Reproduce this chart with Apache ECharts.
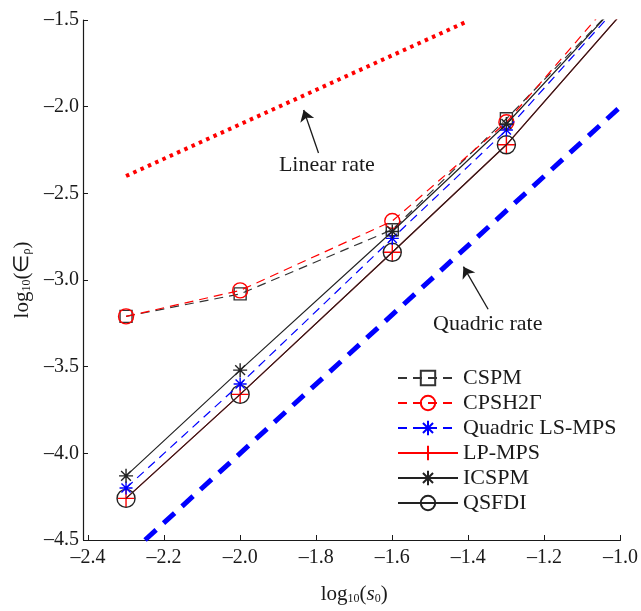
<!DOCTYPE html>
<html>
<head>
<meta charset="utf-8">
<script src="https://cdn.jsdelivr.net/npm/echarts@6/dist/echarts.min.js"></script>
<style>
  html, body { margin: 0; padding: 0; background: #fff; }
  #chart { width: 641px; height: 611px; }
</style>
</head>
<body>
<div id="chart"></div>
<script>
// log10(s0) positions of the five runs
var xVals = [-2.3, -2.0, -1.6, -1.3, -1.0];

// log10(error) per method
var cspm   = [-3.21, -3.08, -2.71, -2.07, -1.39];
var cpsh   = [-3.21, -3.06, -2.66, -2.09, -1.33];
var quadLS = [-4.20, -3.60, -2.76, -2.135, -1.405];
var lpmps  = [-4.26, -3.66, -2.84, -2.22, -1.47];
var icspm  = [-4.13, -3.52, -2.72, -2.10, -1.39];
var qsfdi  = [-4.26, -3.66, -2.84, -2.22, -1.47];

// reference slopes
var linX = [-2.3, -1.41];
var linY = [-2.40, -1.515];
var quadX = [-2.25, -1.0];
var quadY = [-4.5, -2.0];

// annotations
var noteText = ['Linear rate', 'Quadric rate'];
var noteX = [-1.772, -1.349];
var noteY = [-2.337, -3.254];
var arrowFrom = [[-1.794, -2.267], [-1.348, -3.169]];
var arrowTo   = [[-1.833, -2.019], [-1.413, -2.923]];

var legendNames = ['CSPM', 'CPSH2Γ', 'Quadric LS-MPS', 'LP-MPS', 'ICSPM', 'QSFDI'];

var FONT = 'Liberation Serif';
var INK = '#1a1a1a';

var SQUARE = 'path://M-1,-1L1,-1L1,1L-1,1Z';
var CIRCLE = 'path://M1,0A1,1,0,1,1,-1,0A1,1,0,1,1,1,0Z';
var PLUS   = 'path://M0,-1L0,1M-1,0L1,0';
var STAR   = 'path://M0,-1L0,1M-1,0L1,0M-0.7,-0.7L0.7,0.7M-0.7,0.7L0.7,-0.7';

function pairs(xs, ys) {
    return xs.map(function (x, i) { return [x, ys[i]]; });
}

function tick(v) {
    return v.toFixed(1).replace('-', '\u2013');
}

function method(name, ys, color, dash, symbol, size, z) {
    return {
        name: name,
        type: 'line',
        data: pairs(xVals, ys),
        z: z,
        symbol: symbol,
        symbolSize: size,
        showAllSymbol: true,
        lineStyle: { color: color, width: 1.2, type: dash },
        itemStyle: { color: 'rgba(0,0,0,0)', borderColor: color, borderWidth: 1.4 },
        emphasis: { disabled: true }
    };
}

var rich = {
    a: { fontFamily: FONT, fontSize: 21, color: INK },
    i: { fontFamily: FONT, fontSize: 21, color: INK, fontStyle: 'italic' },
    b: { fontFamily: FONT, fontSize: 12, color: INK, verticalAlign: 'bottom' }
};

var series = [
    method('CSPM', cspm, '#333', [9, 6], SQUARE, 12, 3),
    method('CPSH2Γ', cpsh, '#ff0000', [9, 6], CIRCLE, 15, 4),
    method('Quadric LS-MPS', quadLS, '#0000ff', [9, 6], STAR, 13, 5),
    method('LP-MPS', lpmps, '#ff0000', 'solid', PLUS, 17, 2),
    method('ICSPM', icspm, '#222', 'solid', STAR, 14, 6),
    method('QSFDI', qsfdi, '#222', 'solid', CIRCLE, 18, 3),
    {
        name: 'linear',
        type: 'line',
        data: pairs(linX, linY),
        symbol: 'none',
        lineStyle: { color: '#ff0000', width: 4, type: [3.5, 4.5] },
        emphasis: { disabled: true }
    },
    {
        name: 'quadric',
        type: 'line',
        data: pairs(quadX, quadY),
        symbol: 'none',
        lineStyle: { color: '#0000ff', width: 5, type: [15, 10] },
        emphasis: { disabled: true }
    },
    {
        name: 'notes',
        type: 'scatter',
        symbolSize: 0,
        itemStyle: { opacity: 1 },
        data: noteX.map(function (x, i) { return [x, noteY[i], noteText[i]]; }),
        label: {
            show: true,
            position: 'inside',
            formatter: function (p) { return p.value[2]; },
            fontFamily: FONT,
            fontSize: 22,
            color: INK,
            opacity: 1,
            textBorderWidth: 0
        },
        markLine: {
            silent: true,
            symbol: ['none', 'arrow'],
            symbolSize: 11,
            label: { show: false },
            itemStyle: { color: INK },
            lineStyle: { color: INK, width: 1.3, type: 'solid' },
            data: arrowFrom.map(function (f, i) {
                return [{ coord: f }, { coord: arrowTo[i] }];
            })
        },
        emphasis: { disabled: true }
    }
];

var myChart = echarts.init(document.getElementById('chart'));
myChart.setOption({
    animation: false,
    backgroundColor: '#fff',
    grid: { left: 88, right: 13.5, top: 20, bottom: 71 },
    legend: {
        data: legendNames,
        orient: 'vertical',
        left: 392,
        top: 362,
        itemWidth: 60,
        itemHeight: 18,
        itemGap: 3,
        textStyle: { fontFamily: FONT, fontSize: 22, color: INK, lineHeight: 22 }
    },
    xAxis: {
        type: 'value',
        min: -2.4,
        max: -1.0,
        interval: 0.2,
        name: '{a|log}{b|10}{a|(}{i|s}{b|0}{a|)}',
        nameLocation: 'middle',
        nameGap: 44,
        nameTextStyle: { rich: rich },
        splitLine: { show: false },
        axisLine: { onZero: false, lineStyle: { color: INK, width: 1.2 } },
        axisTick: { inside: true, length: 5, lineStyle: { color: INK } },
        axisLabel: { formatter: tick, fontFamily: FONT, fontSize: 20, color: INK, margin: 8 }
    },
    yAxis: {
        type: 'value',
        min: -4.5,
        max: -1.5,
        interval: 0.5,
        offset: 5,
        name: '{a|log}{b|10}{a|(\u2208}{b|ρ}{a|)}',
        nameLocation: 'middle',
        nameGap: 50,
        nameTextStyle: { rich: rich },
        splitLine: { show: false },
        axisLine: { onZero: false, lineStyle: { color: INK, width: 1.2 } },
        axisTick: { inside: true, length: 5, lineStyle: { color: INK } },
        axisLabel: { formatter: tick, fontFamily: FONT, fontSize: 20, color: INK, margin: 4 }
    },
    series: series
});
</script>
</body>
</html>
